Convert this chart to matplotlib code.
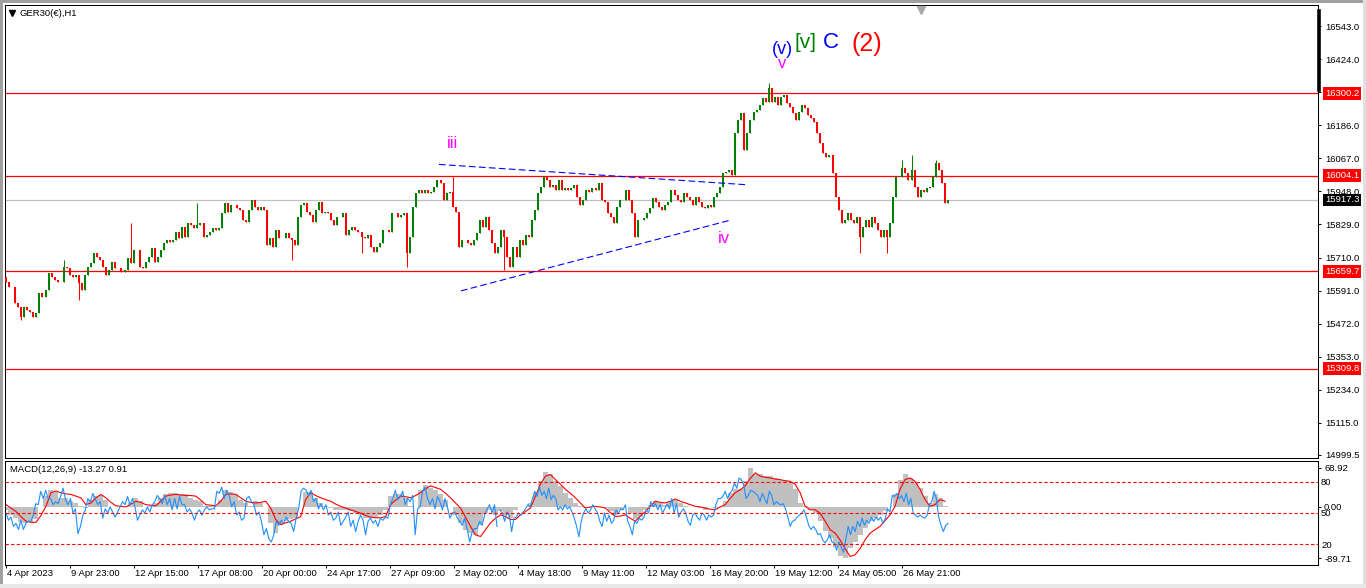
import numpy as np
import matplotlib
matplotlib.use('Agg')
import matplotlib.pyplot as plt
from matplotlib import transforms
from matplotlib.patches import Rectangle
from matplotlib.lines import Line2D

plt.rcParams.update({
    'font.family': ['Liberation Sans', 'DejaVu Sans'],
    'font.size': 6.8,
    'axes.linewidth': 0.75,
})

W, H = 1366, 588

# ---------------- price data (H1 candles) ----------------
CLOSE = [
    15622, 15605, 15604, 15546, 15532, 15496, 15532, 15521, 15515, 15496,
    15510, 15582, 15569, 15593, 15654, 15640, 15629, 15623, 15623, 15677,
    15672, 15647, 15640, 15647, 15618, 15593, 15647, 15677, 15690, 15726,
    15713, 15701, 15677, 15647, 15665, 15694, 15672, 15672, 15658, 15665,
    15708, 15690, 15737, 15737, 15677, 15672, 15694, 15713, 15744, 15694,
    15713, 15737, 15762, 15773, 15767, 15773, 15802, 15780, 15820, 15785,
    15834, 15827, 15816, 15827, 15834, 15785, 15791, 15802, 15816, 15809,
    15816, 15870, 15906, 15874, 15899, 15899, 15888,
    15881, 15845, 15838, 15881, 15917, 15893, 15881, 15893, 15881, 15755,
    15780, 15748, 15809, 15780, 15780, 15798, 15780, 15773, 15755, 15856,
    15899, 15906, 15874, 15863, 15838, 15881, 15910, 15870, 15874, 15870,
    15845, 15827, 15856, 15856, 15870, 15791, 15809, 15820, 15809, 15802,
    15785, 15780, 15791, 15748, 15730, 15748, 15762, 15809, 15809, 15802,
    15870, 15870, 15856, 15863, 15870, 15726, 15785, 15893, 15942, 15953,
    15942, 15953, 15942, 15946, 15964, 15989, 15978, 15917, 15942, 15946,
    15893, 15874, 15748, 15773, 15773, 15762,
    15755, 15773, 15798, 15845, 15820, 15856, 15809, 15762, 15726, 15748,
    15809, 15785, 15713, 15677, 15748, 15713, 15773, 15755, 15791, 15785,
    15845, 15881, 15942, 15964, 16000, 15989, 15964, 15971, 15953, 15989,
    15953, 15959, 15953, 15959, 15971, 15928, 15899, 15917, 15953, 15946,
    15959, 15953, 15977, 15917, 15910, 15870, 15856, 15834, 15893, 15917,
    15917, 15953, 15917, 15870, 15785, 15845, 15845, 15852, 15870, 15888,
    15924, 15910, 15893, 15881, 15899, 15910, 15953, 15935, 15917, 15910,
    15941, 15928, 15917, 15899, 15928, 15910, 15893, 15888,
    15899, 15893, 15929, 15941, 15964, 16013, 16018, 16025, 16007, 16158,
    16205, 16229, 16097, 16157, 16205, 16234, 16241, 16259, 16283, 16270,
    16319, 16270, 16288, 16259, 16288, 16295, 16265, 16253, 16229, 16205,
    16234, 16259, 16247, 16223, 16211, 16198, 16157, 16121, 16085, 16072,
    16079, 16013, 15929, 15881, 15833, 15845, 15869, 15845, 15833, 15857,
    15785, 15820, 15845, 15820, 15857, 15833, 15809, 15785, 15809, 15785,
    15833, 15929, 16001, 16001, 16031, 16013, 15989, 16025, 15965, 15929,
    15953, 15947, 15959, 15965, 16001, 16049, 16025, 15977, 15905, 15917,
]
FIRST_OPEN = 15640
SPIKE_HIGH_IDX = [19, 41, 63, 147, 251, 295, 298, 306]
SPIKE_HIGH = [15701, 15834, 15906, 15999, 16337, 16061, 16079, 16061]
SPIKE_LOW_IDX = [5, 24, 94, 117, 132, 164, 281, 290]
SPIKE_LOW = [15484, 15557, 15701, 15726, 15677, 15665, 15726, 15726]

RED_LEVELS = [16300.2, 16004.1, 15659.7, 15309.8]
BID = 15917.3
PRICE_TICKS = [16543.0, 16424.0, 16305.0, 16186.0, 16067.0, 15948.0, 15829.0,
               15710.0, 15591.0, 15472.0, 15353.0, 15234.0, 15115.0, 14999.5]

DATE_LABELS = ['4 Apr 2023', '9 Apr 23:00', '12 Apr 15:00', '17 Apr 08:00',
               '20 Apr 00:00', '24 Apr 17:00', '27 Apr 09:00', '2 May 02:00',
               '4 May 18:00', '9 May 11:00', '12 May 03:00', '16 May 20:00',
               '19 May 12:00', '24 May 05:00', '26 May 21:00']
BARS_PER_LABEL = 32

# trend lines drawn by the analyst (bar index, price)
UPPER_BARS = [216.5, 370]
UPPER_PRICES = [16045, 15972]
LOWER_BARS = [227.5, 362.5]
LOWER_PRICES = [15590, 15845]

# Elliott wave labels
WAVE_TEXT = ['iii', 'iv', '(v)', 'v', '[v]', 'C', '(2)']
WAVE_BAR = [223.5, 359, 388, 388, 399.5, 412.5, 430.5]
WAVE_PRICE = [16122, 15780, 16457, 16407, 16482, 16482, 16478]
WAVE_COLOR = ['#FF00FF', '#FF00FF', '#0000FF', '#FF00FF', '#008000', '#0000FF', '#FF0000']
WAVE_SIZE = [12, 12, 13, 12, 15, 16, 18]

# ---------------- indicator window ----------------
MACD_HIST = [
    -6, -15, -20, -26, -29, -27, -22, 0, 20, 29,
    27, 16, 15, 10, 7, 2, -2, 13, 20, 21,
    13, 0, 0, 0, 0, 7, 16, 10, 0, 2,
    7, 16, 22, 24, 24, 23, 22, 16, 13, 10,
    1, 1, 2, 13, 30, 27, 22, 13, 7, 1,
    10, 7, 0, -28, -46, -31, -25, -22, -19, 0,
    27, 27, 16, 7, 1, -2, -5, -5, -6, -8,
    -11, -14, -20, -20, -17, -14, -5, 19, 22, 22,
    16, 1, 0, 30, 38, 33, 30, 22, 13, 0,
    -14, -28, -40, -46, -49, -31, -11, -5, -14, -8,
    -14, -20, -5, 0, 0, 7, 25, 45, 61, 57,
    45, 37, 25, 16, 7, 1, -2, 0, 0, 0,
    -2, -8, -14, -5, 0, -11, -22, -17, -5, 4,
    10, 7, 4, 10, 13, 7, 1, 0, 0, -2,
    -5, 0, -2, 0, 10, 25, 31, 31, 45, 68.9,
    57, 57, 55, 54, 51, 48, 48, 42, 31, 7,
    1, -5, -11, -25, -43, -55, -70, -87, -89.7, -73,
    -61, -49, -37, -25, -19, -14, -8, 0, 22, 48,
    57, 51, 42, 34, 19, 7, 22, 16, 1,
]
MACD_SIGNAL = [
    4, -2, -8, -17, -25, -27, -27, -15, 1, 25,
    28, 25, 23, 22, 19, 16, 4, 7, 16, 22,
    16, 8, 2, 1, 0, 5, 10, 8, 4, 3,
    2, 10, 19, 21, 22, 21, 20, 20, 19, 12,
    4, 3, 2, 10, 22, 23, 22, 16, 10, 8,
    7, 8, 10, -2, -22, -31, -28, -25, -21, -17,
    13, 25, 20, 16, 13, 10, 5, 1, -2, -5,
    -8, -11, -15, -18, -19, -19, -17, 4, 12, 19,
    18, 16, 20, 25, 32, 37, 34, 31, 24, 16,
    7, -2, -18, -34, -49, -52, -40, -28, -20, -14,
    -17, -22, -22, -14, -8, -2, 19, 40, 54, 57,
    48, 40, 31, 24, 16, 7, -2, 0, 1, 0,
    -2, -10, -17, -16, -14, -20, -25, -16, -8, 1,
    10, 8, 7, 10, 14, 10, 7, 4, 1, 0,
    -2, -4, -5, 0, 4, 15, 25, 30, 37, 50,
    60, 54, 52, 51, 49, 48, 46, 45, 40, 25,
    1, -5, -5, -11, -25, -40, -46, -58, -73, -87,
    -84, -73, -58, -46, -40, -34, -24, -14, 1, 31,
    48, 51, 45, 31, 13, 1, 4, 13, 10,
]
MACD_MAX, MACD_MIN = 68.92, -89.71

# 0-100 oscillator drawn in the same window (first half / second half)
OSC_A = [
    50, 43, 46, 37, 40, 34, 43, 34, 40, 42,
    42, 48, 59, 58, 71, 64, 72, 64, 64, 58,
    61, 59, 66, 74, 63, 58, 64, 50, 54, 30,
    37, 48, 53, 64, 61, 69, 64, 58, 61, 45,
    54, 50, 56, 51, 46, 51, 56, 61, 58, 66,
    58, 64, 56, 43, 48, 53, 50, 56, 51, 58,
    61, 67, 64, 59, 67, 58, 64, 53, 64, 54,
    66, 58, 58, 51, 54, 50, 43, 50, 53, 48,
    53, 56, 53, 54, 54, 71, 69, 75, 64, 72,
    67, 56, 61, 48, 51, 43, 45, 64, 66, 61,
    58, 48, 51, 42, 29, 35, 25, 22, 29, 42,
    38, 43, 40, 46, 42, 40, 32, 45, 54, 71,
    74, 72, 67, 72, 61, 64, 54, 59, 53, 58,
    48, 51, 43, 45, 51, 38, 42, 46, 51, 37,
    43, 32, 42, 48, 43, 29, 42, 45, 40, 43,
    37, 45, 43, 46, 45, 58, 64, 72, 63, 66,
    71, 58, 64, 61, 67, 29, 54, 56, 71, 75,
    64, 58, 64, 54, 66, 61, 53, 64, 56, 45,
    50, 51, 45, 42, 38, 45, 34, 22, 32, 35,
    35, 42, 38, 48, 54, 58, 50, 58, 37,
]
OSC_B = [
    53, 50, 42, 51, 48, 32, 45, 46, 50, 48,
    51, 54, 58, 56, 64, 71, 66, 75, 67, 71,
    64, 74, 63, 67, 64, 53, 56, 53, 58, 54,
    56, 51, 45, 37, 27, 42, 50, 54, 50, 53,
    58, 54, 50, 42, 37, 50, 42, 48, 40, 43,
    53, 50, 54, 53, 58, 42, 37, 29, 42, 40,
    45, 43, 46, 53, 50, 61, 56, 59, 53, 58,
    50, 54, 59, 54, 64, 50, 59, 46, 51, 54,
    50, 42, 38, 48, 50, 46, 43, 50, 48, 43,
    48, 46, 48, 58, 64, 64, 66, 71, 64, 69,
    72, 79, 74, 84, 82, 77, 64, 67, 72, 71,
    69, 67, 61, 69, 64, 59, 71, 67, 58, 61,
    59, 58, 59, 54, 46, 37, 42, 43, 46, 48,
    50, 53, 46, 38, 34, 37, 34, 29, 30, 24,
    21, 24, 29, 22, 21, 14, 22, 17, 12, 25,
    37, 29, 37, 32, 42, 37, 45, 38, 43, 40,
    46, 42, 46, 43, 46, 40, 45, 54, 51, 67,
    66, 69, 64, 67, 61, 69, 58, 64, 50, 48,
    46, 48, 46, 45, 48, 58, 61, 71, 64, 46,
    38, 32, 38, 40,
]
OSC_LEVELS = [80, 50, 20]

COLORS = {
    'up': '#008000',
    'down': '#FF0000',
    'flat': '#000000',
    'level': '#FF0000',
    'bid': '#C0C0C0',
    'trend': '#0000FF',
    'hist': '#C0C0C0',
    'signal': '#FF0000',
    'osc': '#1E90FF',
}


def px_box(x0, y0, x1, y1):
    return [x0 / W, 1 - y1 / H, (x1 - x0) / W, (y1 - y0) / H]


fig = plt.figure(figsize=(W / 100, H / 100), dpi=100)
fig.patch.set_facecolor('white')

ax = fig.add_axes(px_box(5, 5, 1318, 458))
axm = fig.add_axes(px_box(5, 461, 1318, 565), sharex=ax)
axo = axm.twinx()

# ---- candles ----
close = np.array(CLOSE, dtype=float)
opn = np.r_[FIRST_OPEN, close[:-1]]
hi = np.maximum(opn, close)
lo = np.minimum(opn, close)
hi[SPIKE_HIGH_IDX] = np.maximum(hi[SPIKE_HIGH_IDX], SPIKE_HIGH)
lo[SPIKE_LOW_IDX] = np.minimum(lo[SPIKE_LOW_IDX], SPIKE_LOW)
pos = np.linspace(0, 471, len(close))
col = np.where(close > opn, COLORS['up'], np.where(close < opn, COLORS['down'], COLORS['flat']))
ax.vlines(pos, lo, hi, colors=col, lw=0.75, zorder=3)
ax.vlines(pos, opn, close, colors=col, lw=1.45, zorder=3)

for lvl in RED_LEVELS:
    ax.axhline(lvl, color=COLORS['level'], lw=0.9, zorder=2)
ax.axhline(BID, color=COLORS['bid'], lw=0.9, zorder=2)

ax.plot(UPPER_BARS, UPPER_PRICES, color=COLORS['trend'], lw=0.8, ls=(0, (6, 3)), zorder=4)
ax.plot(LOWER_BARS, LOWER_PRICES, color=COLORS['trend'], lw=0.8, ls=(0, (6, 3)), zorder=4)

for txt, b, p, c, s in zip(WAVE_TEXT, WAVE_BAR, WAVE_PRICE, WAVE_COLOR, WAVE_SIZE):
    ax.text(b, p, txt, color=c, fontsize=s, ha='center', va='center', zorder=5)

ax.set_xlim(-0.5, 656)
ax.set_ylim(14988.6, 16618.6)
ax.yaxis.tick_right()
ax.set_yticks(PRICE_TICKS)
ax.set_yticklabels([f'{v:.1f}' for v in PRICE_TICKS])
ax.tick_params(axis='y', direction='out', length=2.2, width=0.7, pad=2.9, labelsize=6.8)
ax.tick_params(axis='x', bottom=False, labelbottom=False)

# price labels for the horizontal lines
ytr = transforms.blended_transform_factory(ax.transAxes, ax.transData)
xoff = 1 + 7 / 1313
for lvl in RED_LEVELS:
    ax.text(xoff, lvl, f'{lvl:.1f}', transform=ytr, color='white', ha='left', va='center',
            fontsize=6.8, clip_on=False, zorder=6,
            bbox=dict(boxstyle='square,pad=0.2', fc=COLORS['level'], ec='none'))
ax.text(xoff, BID, f'{BID:.1f}', transform=ytr, color='white', ha='left', va='center',
        fontsize=6.8, clip_on=False, zorder=6,
        bbox=dict(boxstyle='square,pad=0.2', fc='black', ec='none'))

# ---- MACD window ----
hpos = np.linspace(0, 469.5, len(MACD_HIST))
axm.bar(hpos, MACD_HIST, width=2.5, color=COLORS['hist'], lw=0, zorder=1)
axm.plot(hpos, MACD_SIGNAL, color=COLORS['signal'], lw=0.8, zorder=2)
axm.set_ylim(-102, 80.7)
axm.yaxis.tick_right()
axm.set_yticks([MACD_MAX, 0.0, MACD_MIN])
axm.set_yticklabels([f'{v:.2f}' for v in [MACD_MAX, 0.0, MACD_MIN]])
axm.tick_params(axis='y', direction='out', length=2.2, width=0.7, pad=2.2, labelsize=6.8)

axo.plot(np.linspace(0, 245.5, len(OSC_A)), OSC_A, color=COLORS['osc'], lw=0.8)
axo.plot(np.linspace(247, 471, len(OSC_B)), OSC_B, color=COLORS['osc'], lw=0.8)
for lvl in OSC_LEVELS:
    axo.axhline(lvl, color=COLORS['level'], lw=0.8, ls=(0, (3, 2)))
axo.set_ylim(-0.3, 100.3)
axo.set_yticks(OSC_LEVELS)
axo.set_yticklabels([str(v) for v in OSC_LEVELS])
axo.tick_params(axis='y', direction='out', length=0, pad=2.2, labelsize=6.8)
for sp in axo.spines.values():
    sp.set_visible(False)

ticks = np.arange(len(DATE_LABELS)) * BARS_PER_LABEL
axm.set_xticks(ticks)
axm.set_xticklabels([''] * len(ticks))
axm.tick_params(axis='x', direction='out', length=2.5, width=0.7)
xtr = transforms.blended_transform_factory(axm.transData, axm.transAxes)
for t, lab in zip(ticks, DATE_LABELS):
    axm.text(t + 0.5, -9 / 104, lab, transform=xtr, ha='left', va='center',
             fontsize=6.8, clip_on=False)

# ---- titles and window chrome ----
fig.text(20 / W, 1 - 13 / H, 'GER30(€),H1', ha='left', va='center', fontsize=6.8)
fig.add_artist(Line2D([12 / W], [1 - 12.5 / H], marker='v', ms=4.5, color='black', lw=0))
fig.text(10 / W, 1 - 469 / H, 'MACD(12,26,9) -13.27 0.91', ha='left', va='center', fontsize=6.8)

ax.plot([0.6976], [0.99], marker='v', ms=6, color='#A8A8A8', transform=ax.transAxes,
        clip_on=False, zorder=7)
fig.add_artist(Line2D([1318.5 / W, 1318.5 / W], [1 - 11 / H, 1 - 90 / H], color='black', lw=2.6))

fig.add_artist(Rectangle((0, 0), 3 / W, 1, transform=fig.transFigure, color='#A0A0A0', lw=0))
fig.add_artist(Rectangle((0, 1 - 3 / H), 1, 3 / H, transform=fig.transFigure, color='#A0A0A0', lw=0))
fig.add_artist(Rectangle((1363 / W, 0), 3 / W, 1, transform=fig.transFigure, color='#E0E0E0', lw=0))
fig.add_artist(Rectangle((0, 0), 1, 4 / H, transform=fig.transFigure, color='#E8E8E8', lw=0))

fig.savefig('out.png', dpi=100, facecolor='white')
